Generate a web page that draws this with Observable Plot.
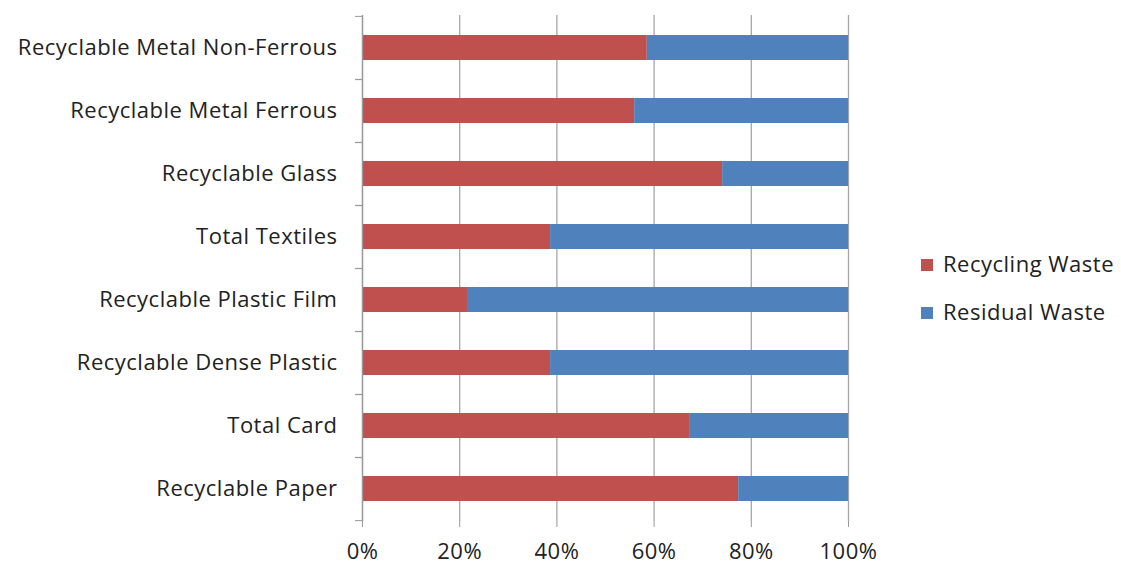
<!DOCTYPE html>
<html><head><meta charset="utf-8">
<script src="https://cdn.jsdelivr.net/npm/d3@7"></script>
<script src="https://cdn.jsdelivr.net/npm/@observablehq/plot@0.6"></script>
<style>
body{margin:0;background:#fff;}
#wrap{position:relative;width:1121px;height:565px;font-family:"Open Sans",sans-serif;color:#222;}
#legend{position:absolute;left:921px;top:239px;font-size:22px;letter-spacing:0.5px;line-height:48px;}
#legend .sw{display:inline-block;width:12px;height:12px;margin-right:10px;vertical-align:1px;}
</style></head><body>
<div id="wrap"><div id="chart"></div><div id="legend"></div></div>
<script>
const categories = ["Recyclable Metal Non-Ferrous","Recyclable Metal Ferrous","Recyclable Glass","Total Textiles","Recyclable Plastic Film","Recyclable Dense Plastic","Total Card","Recyclable Paper"];
const recyclingWaste = [58.6, 56.0, 74.1, 38.7, 21.6, 38.7, 67.3, 77.4];
const residualWaste = [41.4, 44.0, 25.9, 61.3, 78.4, 61.3, 32.7, 22.6];
const seriesNames = ["Recycling Waste", "Residual Waste"];
const seriesColors = ["#C0504D", "#4F81BD"];
const xTicks = [0, 20, 40, 60, 80, 100];

const data = [];
categories.forEach((c, i) => {
  data.push({category: c, series: seriesNames[0], value: recyclingWaste[i]});
  data.push({category: c, series: seriesNames[1], value: residualWaste[i]});
});

const W = 1121, H = 565, mT = 15, mB = 44, mL = 362, mR = 273;
const step = (H - mT - mB) / categories.length;

const chart = Plot.plot({
  width: W, height: H,
  marginTop: mT, marginBottom: mB, marginLeft: mL, marginRight: mR,
  style: {fontFamily: "'Open Sans', sans-serif", fontSize: "22px", letterSpacing: "0.5px", color: "#222", background: "#fff"},
  x: {domain: [0, 100], ticks: xTicks, tickFormat: d => d + "%", label: null},
  y: {domain: categories, paddingInner: 0.6, paddingOuter: 0.3, label: null},
  color: {domain: seriesNames, range: seriesColors},
  marks: [
    Plot.gridX(xTicks, {stroke: "#A6A6A6", strokeOpacity: 1, strokeWidth: 1.3}),
    Plot.barX(data, Plot.stackX({y: "category", x: "value", fill: "series", z: "series", order: seriesNames, inset: 0})),
    Plot.ruleX([0], {stroke: "#999", strokeWidth: 1.3}),
    Plot.ruleY([0], {frameAnchor: "bottom", stroke: "#999", strokeWidth: 1.3}),
    Plot.axisX({ticks: xTicks, tickFormat: d => d + "%", tickSize: 6, tickPadding: 16, stroke: "#999", fontSize: 22, label: null}),
    Plot.axisY({tickSize: 0, tickPadding: 25, fontSize: 22, label: null}),
    Plot.axisY({tickSize: 7, tickFormat: () => "", dy: step / 2, stroke: "#999", label: null}),
    Plot.axisY({tickSize: 7, tickFormat: () => "", dy: -step / 2, stroke: "#999", label: null})
  ]
});
document.getElementById("chart").appendChild(chart);

const legend = document.getElementById("legend");
seriesNames.forEach((s, i) => {
  const row = document.createElement("div");
  row.innerHTML = `<span class="sw" style="background:${seriesColors[i]}"></span>${s}`;
  legend.appendChild(row);
});
</script>
</body></html>
